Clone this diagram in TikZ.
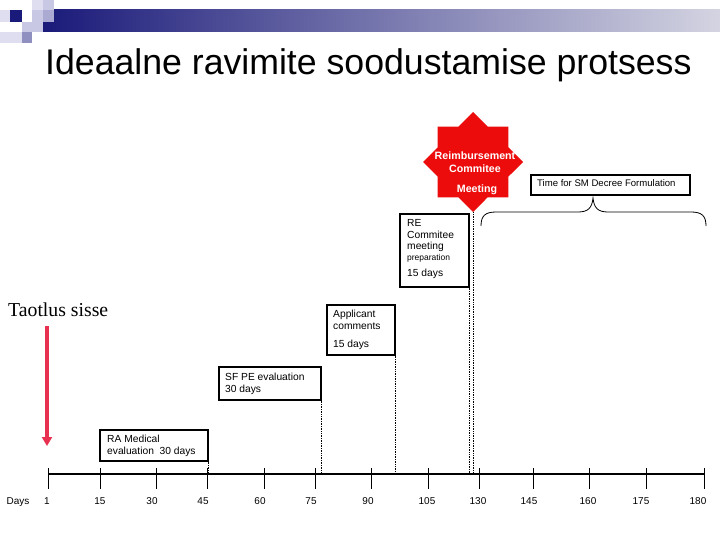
\documentclass[tikz,border=0pt]{standalone}
\usepackage{fontspec}
\setmainfont{Liberation Sans}
\newfontfamily\tnr{Liberation Serif}
\usetikzlibrary{shapes.geometric,arrows.meta}
\definecolor{navy}{RGB}{26,26,122}
\definecolor{barlight}{RGB}{212,212,226}
\definecolor{starred}{RGB}{236,12,12}
\definecolor{arrowred}{RGB}{232,48,80}
\definecolor{sqA}{RGB}{222,222,240}
\definecolor{sqB}{RGB}{200,200,228}
\definecolor{sqC}{RGB}{170,170,210}
\definecolor{sqD}{RGB}{144,144,192}
\tikzset{
  box/.style={draw, line width=1.6bp, inner sep=0, anchor=north west},
  txt/.style={font=\fontsize{10.3}{12}\selectfont, inner sep=0, anchor=base west},
  small/.style={font=\fontsize{8.5}{10}\selectfont, inner sep=0, anchor=base west},
  startxt/.style={font=\bfseries\fontsize{10.7}{12}\selectfont, text=white, inner sep=0, anchor=base},
  axlbl/.style={font=\fontsize{10}{12}\selectfont, inner sep=0, anchor=base},
  dots/.style={line width=0.7bp, densely dotted},
}
\begin{document}
\begin{tikzpicture}[x=1bp,y=-1bp]
\useasboundingbox (0,0) rectangle (720,540);
\fill[white] (0,0) rectangle (720,540);
% header bar and squares
\shade[left color=navy, right color=barlight] (43,10) rectangle (720,32);
\fill[sqA] (32,0) rectangle (43,10);
\fill[sqB] (43,0) rectangle (54,10);
\fill[sqA] (0,10) rectangle (10,22);
\fill[navy] (10,10) rectangle (22,22);
\fill[sqB] (32,10) rectangle (43,22);
\fill[sqC] (43,10) rectangle (54,22);
\fill[sqB] (22,22) rectangle (32,32);
\fill[sqB] (32,22) rectangle (43,32);
\fill[sqA] (0,32) rectangle (22,43);
\fill[sqD] (22,32) rectangle (32,43);
% title
\node[font=\fontsize{35.8}{42}\selectfont, inner sep=0, anchor=base west] (title) at (45,75) {Ideaalne ravimite soodustamise protsess};
% star
\node[star, star points=8, star point ratio=1.307, minimum size=100bp, inner sep=0, fill=starred, draw=none] (rc) at (473,162) {};
\node[startxt] (rc1) at (475,160) {Reimbursement};
\node[startxt] (rc2) at (475,173) {Commitee};
\node[startxt] (rc3) at (477,193) {Meeting};
% time box and brace
\node[box, minimum width=159bp, minimum height=20bp] (tb) at (530,174) {};
\node[font=\fontsize{9.6}{11}\selectfont, inner sep=0, anchor=base west] (tbt) at (537,187) {Time for SM Decree Formulation};
\coordinate (brtip) at (593,198);
\draw[line width=0.8bp] (481,226) .. controls (481,216) and (485,212) .. (496,212) -- (578,212) .. controls (588,212) and (592,208) .. (brtip) .. controls (594,208) and (598,212) .. (608,212) -- (691,212) .. controls (702,212) and (706,216) .. (706,226);
% RE box
\node[box, minimum width=69bp, minimum height=73bp] (re) at (399,213) {};
\node[txt] (re1) at (407,227) {RE};
\node[txt] (re2) at (407,239) {Commitee};
\node[txt] (re3) at (407,250) {meeting};
\node[small] (re4) at (407,261) {preparation};
\node[txt] (re5) at (407,277) {15 days};
% Applicant box
\node[box, minimum width=68bp, minimum height=50bp] (app) at (326,304) {};
\node[txt] (app1) at (333,317) {Applicant};
\node[txt] (app2) at (333,329) {comments};
\node[txt] (app3) at (333,347) {15 days};
% SF PE box
\node[box, minimum width=102bp, minimum height=33bp] (sf) at (218,366) {};
\node[txt] (sf1) at (225,380) {SF PE evaluation};
\node[txt] (sf2) at (225,392) {30 days};
% RA box
\node[box, minimum width=108bp, minimum height=31bp] (ra) at (99,429) {};
\node[txt] (ra1) at (107,442) {RA Medical};
\node[txt] (ra2) at (107,454) {evaluation\ \ 30 days};
% Taotlus
\node[font=\tnr\fontsize{19.8}{22}\selectfont, inner sep=0, anchor=base west] (tao) at (8,316) {Taotlus sisse};
\coordinate (arS) at (47,326);
\coordinate (arE) at (47,446);
\draw[arrowred, line width=3.8bp, -{Triangle[width=10bp,length=9bp]}] (arS) -- (arE);
% axis
\coordinate (axL) at (48,474);
\coordinate (axR) at (704,474);
\draw[line width=1.3bp] (axL) -- (axR);
\foreach \x in {48,100,156,207,264,315,371,428,479,533,589,646,704}
  \draw[line width=1bp] (\x,468) -- (\x,489);
% dotted guides
\draw[dots] (ra.south east) -- (ra.south east |- axL);
\draw[dots] (sf.south east) -- (sf.south east |- axL);
\draw[dots] (app.south east) -- (app.south east |- axL);
\draw[dots] (re.south east) -- (re.south east |- axL);
\draw[dots] (rc.south) -- (rc.south |- axL);
% axis labels
\node[axlbl] (dl) at (18,504) {Days};
\foreach \x/\t in {47/1,100/15,152/30,203/45,260/60,311/75,368/90,427/105,478/130,529/145,588/160,641/175,698/180}
  \node[axlbl] at (\x,504) {\t};
\end{tikzpicture}
\end{document}
